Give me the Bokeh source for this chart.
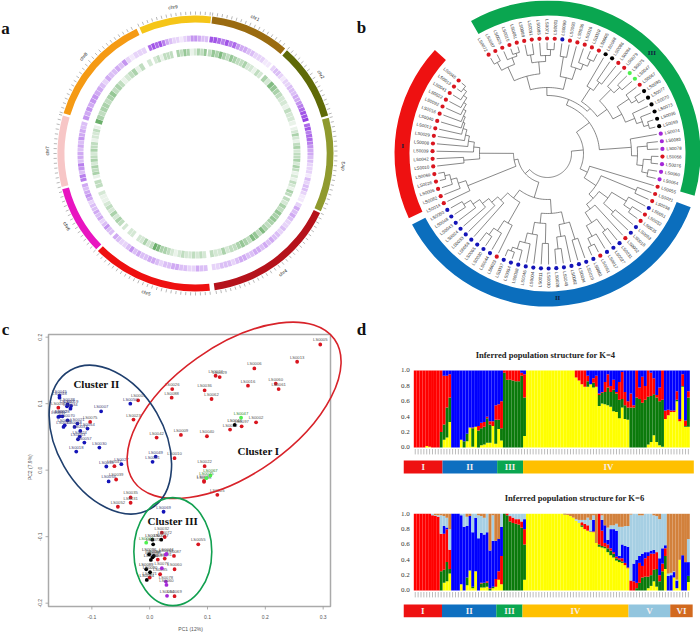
import math
from bokeh.plotting import figure
from bokeh.layouts import column, row
from bokeh.models import ColumnDataSource
from bokeh.core.properties import value
from bokeh.embed import file_html
from bokeh.resources import INLINE

SERIF = value("Liberation Serif")
SANS = value("Liberation Sans")

# ---------- panel a ----------
chr_names = ["chr1","chr2","chr3","chr4","chr5","chr6","chr7","chr8","chr9"]
chr_start = [7,41.5,75,115.5,174,226,256,287,336]
chr_end = [40.5,74,114.7,172,225,255,286,334.7,366.5]
chr_color = ["#9a6b10","#5f6a08","#8f9a2e","#b5121b","#ee1010","#e815c0","#f7c6c6","#f59a14","#f5c518"]
purple_bins = ["88768675443322211","233212233344567889","7867765443322213233211","2434322323343434433443233322",
 "3342233443323443343532234","3353243433245434","6635634434354433","545455443243343521222","78786432212355433"]
green_bins = ["3546435433422132","4265432213221","1242134233424312132143","3243545434635634543324223",
 "2323223212344673242202202","3424232112033","1434243243312231","7434434534312341302","2313330435412435"]

# ---------- panel b ----------
leaf_labels = ["LS0072","LS0087","LS0025","LS0015","LS0081","LS0089","LS0091","LS0085","LS0071","LS0003",
 "LS0099","LS0093","LS0036","LS0016","LS0020","LS0005","LS0088","LS0086","LS0084","LS0079",
 "LS0075","LS0047","LS0067","LS0090","LS0077","LS0070","LS0073","LS0096","LS0059","LS0074",
 "LS0083","LS0078","LS0056","LS0076","LS0060","LS0064","LS0055","LS0021","LS0038","LS0051",
 "LS0032","LS0035","LS0053","LS0018","LS0052","LS0031","LS0027","LS0017","LS0061","LS0001",
 "LS0019","LS0034","LS0002","LS0049","LS0028","LS0030","LS0011","LS0004","LS0046","LS0068",
 "LS0054","LS0037","LS0023","LS0044","LS0030","LS0065","LS0058","LS0033","LS0024","LS0043",
 "LS0048","LS0050","LS0014","LS0082","LS0006","LS0026","LS0069","LS0010","LS0042","LS0039",
 "LS0008","LS0029","LS0012","LS0040","LS0016","LS0092","LS0022","LS0041","LS0013","LS0045"]
leaf_kind = "rrrrrrrrrrbrrrrrkkrrggrkkkkkk" + "ppprppprrrb" + "rrbbrbbbrb" + "b"*12 + "r" + "b"*9 + "r"*18
kind_color = {"r":"#d9151f","b":"#1414b8","k":"#000000","g":"#4ff04f","p":"#a428d8"}
arc_names = ["I","II","III"]
arc_start = [245,110.6,330]
arc_end = [312.6,242.3,466]
arc_color = ["#ee1111","#0b6ebd","#0aa650"]

def n(r, *c):
    return (r, c)

clade_a = n(66, n(80, n(95, n(104,0,1), n(102,2,n(105,3,4))), n(92, n(100,5,6), n(98,7,n(104,8,9)))),
            n(78, n(98,10,11), n(90,12,n(96,13,n(103,14,15)))))
clade_b = n(62, n(78,16,n(88,17,18)), n(74, n(90,19,n(98,20,21)), n(84, n(98,22,n(104,23,24)), n(94,25,n(100,26,n(105,27,28))))))
clade_c = n(84, 29, n(90, n(100,30,31), n(96, n(104,32,33), n(102,34,35))))
clade_d = n(96,37,38)
clade_e = n(75, n(92,39,n(100,40,41)), n(88,42,43))
clade_f = n(70, 44, n(82, n(96,45,46), n(94,47,n(102,48,49))))
clade_g = n(60, n(72,n(90,50,51),n(84,52,n(96,53,54))), n(70,n(90,55,56),n(82,57,n(92,58,n(100,59,n(104,60,61))))))
clade_h = n(56, n(80,62,n(92,63,n(100,64,65))), n(66,66,n(74,67,n(82,68,n(90,69,n(98,70,71))))))
clade_i1 = n(86,72,n(94,73,n(100,74,n(105,75,76))))
clade_i2 = n(68, n(84,77,78), n(74,79,n(80,80,n(84,81,n(88,82,n(90,83,n(92,84,n(95,85,n(98,86,n(102,87,n(106,88,89)))))))))))
tree = n(24, n(36, n(52, n(58, clade_a, clade_b), clade_c), n(44, 36, n(58, clade_d, n(64, clade_e, clade_f)))),
             n(30, n(46, clade_g, clade_h), n(34, clade_i1, clade_i2)))

# ---------- panel c ----------
pc_red = [(.295,.189,"LS0005"),(.255,.163,"LS0013"),(.181,.153,"LS0006"),(.114,.142,"LS0024"),(.121,.140,"LS0029"),
 (.218,.130,"LS0060"),(.223,.122,"LS0061"),(.170,.127,"LS0016"),(.039,.122,"LS0026"),(.095,.120,"LS0036"),
 (.107,.107,"LS0062"),(.038,.109,"LS0088"),(-.020,.105,"LS0001"),(-.028,.076,"LS0023"),(.012,.049,"LS0042"),
 (.054,.053,"LS0009"),(.099,.051,"LS0040"),(.184,.072,"LS0002"),(.159,.066,"LS0097"),(.139,.061,"LS0012"),
 (.043,.018,"LS0010"),(.095,.006,"LS0022"),(.094,-.016,"LS0037"),(.094,-.0175,"LS0058"),(.117,-.037,"LS0025"),
 (-.033,-.041,"LS0035"),(-.033,-.049,"LS0031"),(-.055,-.055,"LS0052"),(-.058,-.014,"LS0039"),(-.061,.006,"LS0047"),
 (-.103,.0725,"LS0075"),(-.158,.094,"LS0056"),(.021,-.094,"LS0032"),(.026,-.1005,"LS0072"),(.084,-.1115,"LS0055"),
 (.042,-.129,"LS0087"),(.026,-.133,"LS0081"),(.014,-.1345,"LS0091"),(.043,-.149,"LS0060"),(.018,-.1565,"LS0085"),
 (0,-.1615,"LS0071"),(.043,-.1895,"LS0069")]
pc_blue = [(-.156,.112,"LS0045"),(-.156,.109,"LS0048"),(-.142,.099,"LS0038"),(-.143,.096,"LS0017"),(-.136,.0965,"LS0019"),
 (-.137,.0925,"LS0034"),(-.156,.081,"LS0002"),(-.151,.081,"LS0028"),(-.158,.08,"LS0011"),(-.142,.075,"LS0070"),
 (-.147,.0675,"LS0004"),(-.149,.065,"LS0046"),(-.125,.07,"LS0021"),(-.130,.065,"LS0068"),(-.1075,.0625,"LS0054"),
 (-.12,.059,"LS0033"),(-.121,.0505,"LS0024"),(-.124,.0465,"LS0043"),(-.113,.0415,"LS0057"),(-.127,.028,"LS0018"),
 (-.084,.0885,"LS0007"),(-.0335,.1,"LS0050"),(-.087,.034,"LS0030"),(-.075,.0055,"LS0053"),(-.049,.009,"LS0027"),
 (-.071,-.017,"LS0054"),(.0104,.0205,"LS0049"),(.005,.0125,"LS0051"),(.024,-.0625,"LS0069")]
pc_black = [(.147,.068,"LS0044"),(.0046,-.1045,"LS0070"),(.02,-.1045,"LS0077"),(.006,-.1115,"LS0073"),(-.001,-.1265,"LS0096"),
 (.007,-.129,"LS0059"),(.005,-.131,"LS0088"),(.002,-.135,"LS0086"),(-.006,-.149,"LS0089"),(.0006,-.1535,"LS0090"),(-.005,-.165,"LS0084")]
pc_green = [(.158,.079,"LS0047"),(.105,-.008,"LS0067"),(.098,-.012,"LS0075"),(-.006,-.109,"LS0047")]
pc_purple = [(.029,-.126,"LS0074"),(.028,-.127,"LS0083"),(.021,-.1475,"LS0076"),(.028,-.1675,"LS0078"),(.029,-.1725,"LS0060"),(.03,-.189,"LS0064")]
pc_x_ticks = [-.1,0,.1,.2,.3]
pc_y_ticks = [-.2,-.1,0,.1,.2]
ell_x = [.146,-.068,.04]
ell_y = [.09,.046,-.1225]
ell_major = [246,160,108]
ell_minor = [128,107,78]
ell_angle = [35.3,-60,90]
ell_color = ["#d8232a","#1f3f6e","#12a050"]
cluster_names = ["Cluster I","Cluster II","Cluster III"]
cluster_x = [.188,-.092,.04]
cluster_y = [.029,.129,-.076]

# ---------- panel d ----------
k4_yellow = [0,0,0,0,.02,.01,0,0,0,0, .1,.13,.33,0,0,0,.1,0,.08,.26, .01,.27,0,.03,.04,.06,.06,.28,.05,.24,
 .09,0,0,0,0,0,0,0,.15,1, 1,1,1,1,1,1,1,1,1,1, 1,1,1,1,1,1,.91,.87,.82,.79,
 .79,.82,.78,.79,.54,.57,.56,.55,.53,.47, .46,.38,.52,.37,.36,0,0,0,0,0, 0,.04,.07,.16,.07,.03,.01,.37,.42,.46, .46,.6,.34,.79,.27,.27]
k4_green = [0,0,0,0,.02,.01,0,0,0,.2, .3,.52,.65,0,0,0,.1,.08,.18,.26, .25,.27,.22,.25,.27,.38,.3,.28,.36,.36,
 .25,.97,.88,.88,.87,.86,.86,.93,.65,1, 1,1,1,1,1,1,1,1,1,1, 1,1,1,1,1,1,.91,.87,.82,.79,
 .86,.82,.84,.79,.68,.71,.72,.78,.72,.75, .7,.62,.63,.55,.52,.52,.52,.65,.63,.58, .62,.66,.67,.69,.65,.6,.62,.37,.42,.46, .46,.62,.34,.8,.28,.65]
k4_red = [1,1,1,1,1,1,1,1,1,1, .93,.93,.95,0,0,0,.1,.08,.18,.26, .26,.27,.28,.32,.33,.4,.34,.34,.55,.56,
 .6,1,1,1,1,1,1,.97,.95,1, 1,1,1,1,1,1,1,1,1,1, 1,1,1,1,1,1,1,1,1,1,
 .93,.82,.9,.93,.7,.72,.85,.95,.8,.88, .72,.85,.98,.72,.6,.7,.55,1,.78,.92, .8,1,.97,.9,.68,.78,1,.48,.49,.48, .48,.73,.37,.95,.35,.73]
k6_yellow = [0,0,0,0,0,0,0,0,0,0, .1,.12,.22,0,0,0,.08,0,.07,.26, .03,.25,0,.04,.04,.05,0,.03,.05,.14,
 .08,0,0,0,0,0,0,0,.14,1, 1,1,1,1,1,1,1,1,1,1, 1,1,1,.985,.97,.95,.91,.88,.83,.8,
 .78,.77,.76,.74,.57,.56,.55,.5,.46,.43, .39,.37,.36,.33,.29,0,0,0,0,0, 0,.03,.06,.12,.05,0,0,.28,0,0, .17,.03,.4,0,0,.11]
k6_green = [0,0,0,0,0,0,0,0,0,.25, .27,.37,.28,0,0,0,.08,0,.17,.26, .05,.25,0,.09,.1,.1,.02,.05,.05,.14,
 .08,1,.98,.9,.88,.87,.86,.82,.6,1, 1,1,1,1,1,1,1,1,1,1, 1,1,1,.985,.97,.95,.91,.88,.85,.8,
 .78,.77,.76,.74,.6,.58,.57,.55,.52,.48, .42,.4,.38,.33,.29,0,0,.03,.1,.17, .18,.18,.2,.27,.28,.12,.25,.45,0,0, .17,.03,.4,0,0,.19]
k6_red = [1,1,1,1,1,1,.98,.97,.96,.74, .74,.8,.53,0,0,0,.08,0,.17,.26, .05,.25,0,.1,.1,.12,.03,.05,.15,.25,
 .45,1,1,.97,.95,.93,.93,.9,.8,1, 1,1,1,1,1,1,1,1,1,1, 1,1,1,.985,.97,.95,.91,.88,.89,.87,
 .85,.77,.77,.74,1,.78,.62,.6,.55,.5, .44,.42,.42,.36,.3,.13,.12,.1,.36,.32, .42,.45,.48,.48,.5,.2,.35,.55,0,0, .17,.03,.4,0,0,.19]
k6_blue = [1,1,1,1,1,1,.98,.97,.96,.74, .84,.82,.53,1,1,1,.98,.83,.84,.97, .76,.95,.68,.75,.73,.76,.52,.65,.65,.68,
 .83,1,1,.97,.95,.93,.93,.9,.93,1, 1,1,1,1,1,1,1,1,1,1, 1,1,1,.985,.97,.95,.91,.88,.89,.87,
 .85,.78,.92,.74,1,.92,.85,.66,.8,.8, .78,.45,.6,.58,.57,.13,.35,.4,.45,.48, .5,.5,.52,.53,.5,.42,.55,.59,.19,.2, .24,.13,.4,.46,.37,.37]
k6_light = [1,1,1,1,1,1,1,.98,.98,.98, .97,.95,.8,1,1,1,1,1,.96,.97, 1,1,.98,.97,.95,1,.52,.98,.65,.67,
 1,1,1,1,1,1,1,1,1,1, 1,1,1,1,1,1,1,1,1,1, 1,1,.99,.985,.97,.95,.93,.92,.92,.92,
 .95,.92,.98,.62,1,.98,.85,.82,.85,.85, .87,.83,.83,.84,.84,.99,1,1,.98,.98, 1,1,1,.98,.97,.93,1,1,.22,.23, .25,.14,.4,.46,.37,.67]
y_ticks = [0,.2,.4,.6,.8,1]
k4_band_names = ["I","II","III","IV"]
k4_band_edges = [-3.5,10,29,38,97.4]
k4_band_colors = ["#ee1111","#0e6fc0","#0aa650","#ffc000"]
k6_band_names = ["I","II","III","IV","V","VI"]
k6_band_edges = [-3.5,9.8,28.7,37.8,74.7,89.2,97]
k6_band_colors = ["#ee1111","#0e6fc0","#0aa650","#ffc000","#92c5de","#d2691e"]

for s in (k4_yellow,k4_green,k4_red,k6_yellow,k6_green,k6_red,k6_blue,k6_light):
    assert len(s) == 96, len(s)
assert len(leaf_labels) == 90 and len(leaf_kind) == 90, (len(leaf_labels), len(leaf_kind))

def blank(w, h, xr, yr):
    p = figure(width=w, height=h, x_range=xr, y_range=yr, output_backend="svg", toolbar_location=None,
               min_border=0, outline_line_color=None)
    p.axis.visible = False
    p.grid.visible = False
    return p

def letter(p, x, y, t):
    p.text([x],[y],[t],text_font=SERIF,text_font_style="bold",text_font_size="17px",
           text_align="center",text_baseline="middle",text_color="#111111")

def mix(col, f):
    c = [int(col[i:i+2],16) for i in (1,3,5)]
    return "#%02x%02x%02x" % tuple(int(255+(v-255)*f) for v in c)

def polar(r, a):
    t = math.radians(a)
    return r*math.sin(t), r*math.cos(t)

def wedges(p, r0, r1, st, en, cols, alpha=1):
    p.annular_wedge(0,0,inner_radius=r0,outer_radius=r1,
        start_angle=[math.pi/2-math.radians(e) for e in en],
        end_angle=[math.pi/2-math.radians(s) for s in st],
        fill_color=cols,line_color=None,fill_alpha=alpha)

# panel a
pa = blank(350,320,(-195,155),(-167,153))
letter(pa,-190,125,"a")
wedges(pa,131,138,chr_start,chr_end,chr_color)
tx0,ty0,tx1,ty1=[],[],[],[]
for s,e in zip(chr_start,chr_end):
    a=s
    while a<=e:
        x,y=polar(138.8,a); tx0.append(x); ty0.append(y)
        x,y=polar(142,a); tx1.append(x); ty1.append(y)
        a+=2
pa.segment(tx0,ty0,tx1,ty1,line_color="#888888",line_width=.6)
for bins,r0,r1,col in ((purple_bins,112,118,"#8a2be2"),(green_bins,98,105,"#2e8f2e")):
    st,en,cl=[],[],[]
    for s,e,b in zip(chr_start,chr_end,bins):
        w=(e-s)/len(b)
        for i,ch in enumerate(b):
            if ch!="0":
                st.append(s+i*w); en.append(s+(i+1)*w-.2); cl.append(mix(col,(int(ch)/9)*.9))
    wedges(pa,r0,r1,st,en,cl)
lx,ly,la=[],[],[]
for s,e in zip(chr_start,chr_end):
    m=(s+e)/2; x,y=polar(148,m); lx.append(x); ly.append(y)
    m%=360
    la.append(math.radians(-m if (m<90 or m>270) else 180-m))
pa.text(lx,ly,chr_names,angle=la,text_font=SANS,text_font_size="4.8px",text_align="center",text_baseline="middle",text_color="#222222")

# panel b
pb = blank(350,320,(-197,153),(-167,153))
letter(pb,-186,126,"b")
wedges(pb,138,153,arc_start,arc_end,arc_color)
N=len(leaf_labels)
first,last=329.2,669.4
leaf_a=[first+(last-first)*i/(N-1) for i in range(N)]
xs,ys=[],[]
def place(node):
    if isinstance(node,int):
        return 111, leaf_a[node]
    r,ch=node
    info=[place(c) for c in ch]
    a0,a1=info[0][1],info[-1][1]
    steps=max(2,int((a1-a0)/2)+1)
    pts=[polar(r,a0+(a1-a0)*i/steps) for i in range(steps+1)]
    xs.append([q[0] for q in pts]); ys.append([q[1] for q in pts])
    for cr,ca in info:
        q0=polar(r,ca); q1=polar(cr,ca)
        xs.append([q0[0],q1[0]]); ys.append([q0[1],q1[1]])
    return r,(a0+a1)/2
place(tree)
pb.multi_line(xs,ys,line_color="#555555",line_width=.7)
dx=[polar(115,a)[0] for a in leaf_a]; dy=[polar(115,a)[1] for a in leaf_a]
pb.scatter(dx,dy,size=4.2,fill_color=[kind_color[k] for k in leaf_kind],line_color=None)
tx=[polar(119,a)[0] for a in leaf_a]; ty=[polar(119,a)[1] for a in leaf_a]
ang,ali=[],[]
for a in leaf_a:
    m=a%360
    if m<180:
        ang.append(math.radians(90-m)); ali.append("left")
    else:
        ang.append(math.radians(270-m)); ali.append("right")
pb.text(source=ColumnDataSource(dict(x=tx,y=ty,t=leaf_labels,a=ang,al=ali)),x="x",y="y",text="t",angle="a",text_align="al",
        text_baseline="middle",text_font=SANS,text_font_size="4.4px",text_color="#333333")
gx=[polar(145,a)[0] for a in (273,176,406)]; gy=[polar(145,a)[1] for a in (273,176,406)]
pb.text(gx,gy,arc_names,text_font=SERIF,text_font_style="bold",text_font_size="7px",text_align="center",text_baseline="middle",text_color="#102040")

# panel c: box from PC1 -0.175..0.3127, PC2 -0.205..0.204; scale 578.2 px and 665 px per unit
X0,X1,Y0,Y1=-.175,.3127,-.205,.204
PX,PY=282/(X1-X0),272/(Y1-Y0)
pc = blank(350,314,(X0-48/PX,X1+20/PX),(Y0-28/PY,Y1+14/PY))
pc.quad(left=[X0],right=[X1],bottom=[Y0],top=[Y1],fill_color=None,line_color="#aaaaaa",line_width=1.5)
pc.segment(pc_x_ticks,[Y0]*5,pc_x_ticks,[Y0-3/PY]*5,line_color="#999999",line_width=.8)
pc.segment([X0]*5,pc_y_ticks,[X0-3/PX]*5,pc_y_ticks,line_color="#999999",line_width=.8)
fmt=lambda v:"%.1f"%v if v else "0.0"
pc.text(pc_x_ticks,[Y0-10.5/PY]*5,[fmt(v) for v in pc_x_ticks],text_font=SANS,text_font_size="5px",text_align="center",text_baseline="middle",text_color="#555555")
pc.text([X0-9/PX]*5,pc_y_ticks,[fmt(v) for v in pc_y_ticks],angle=math.pi/2,text_font=SANS,text_font_size="5px",text_align="center",text_baseline="middle",text_color="#555555")
pc.text([.0707],[Y0-22/PY],["PC1 (12%)"],text_font=SANS,text_font_size="5px",text_align="center",text_baseline="middle",text_color="#555555")
pc.text([X0-19/PX],[.0045],["PC2 (7.9%)"],angle=math.pi/2,text_font=SANS,text_font_size="5px",text_align="center",text_baseline="middle",text_color="#555555")
letter(pc,X0-43/PX,Y1+5/PY,"c")
for pts,col,lab in ((pc_red,"#d9151f","#555555"),(pc_blue,"#1414b8","#444477"),(pc_black,"#000000","#333333"),(pc_green,"#4ff04f","#338833"),(pc_purple,"#a428d8","#555555")):
    xv=[q[0] for q in pts]; yv=[q[1] for q in pts]; tv=[q[2] for q in pts]
    pc.scatter(xv,yv,size=3.8,fill_color=col,line_color=None)
    pc.text(xv,yv,tv,y_offset=-2,text_font=SANS,text_font_size="4.2px",text_align="center",text_baseline="bottom",text_color=lab)
pc.ellipse(ell_x,ell_y,width=ell_major,height=ell_minor,width_units="screen",height_units="screen",
           angle=[math.radians(v) for v in ell_angle],fill_color=None,line_color=ell_color,line_width=1.6)
pc.text(cluster_x,cluster_y,cluster_names,text_font=SERIF,text_font_style="bold",text_font_size="11px",text_align="center",text_baseline="middle",text_color="#111111")

# panel d
def structure(h, yr, tops, cols, edges, names, bcols, y0, y1, tx, ty, title):
    p=blank(350,h,(-22.02,99.72),yr)
    idx=[i+.5 for i in range(96)]
    bottom=[0]*96
    for top,c in zip(tops,cols):
        p.vbar(idx,width=1,bottom=bottom,top=top,fill_color=c,line_color=None)
        bottom=top
    p.segment(idx,[-.02]*96,idx,[-.09]*96,line_color="#aaaaaa",line_width=.8)
    p.text([-1.4]*6,y_ticks,["%.1f"%t for t in y_ticks],text_font=SERIF,text_font_size="7px",text_align="right",text_baseline="middle",text_color="#333333")
    p.quad(left=edges[:-1],right=edges[1:],bottom=[y1]*len(names),top=[y0]*len(names),fill_color=bcols,line_color=None)
    p.text([(a+b)/2 for a,b in zip(edges[:-1],edges[1:])],[(y0+y1)/2]*len(names),names,text_font=SERIF,text_font_style="bold",
           text_font_size="9px",text_align="center",text_baseline="middle",text_color="#f4eeee")
    p.text([tx],[ty],[title],text_font=SERIF,text_font_style="bold",text_font_size="8.6px",text_align="center",text_baseline="middle",text_color="#222222")
    return p

pd4=structure(160,(-.4286,1.649),[k4_yellow,k4_green,k4_red,[1]*96],["#ffff00","#0b7a0b","#ff0000","#0000ff"],
              k4_band_edges,k4_band_names,k4_band_colors,-.169,-.338,45.8,1.195,"Inferred population structure for K=4")
letter(pd4,-18.2,1.53,"d")
pd6=structure(154,(-.5737,1.434),[k6_yellow,k6_green,k6_red,k6_blue,k6_light,[1]*96],["#ffff00","#0b7a0b","#ff0000","#0000ff","#a6cfe3","#d2813c"],
              k6_band_edges,k6_band_names,k6_band_colors,-.1825,-.348,55.9,1.21,"Inferred population structure for K=6")

page=column(row(pa,pb,spacing=0),row(pc,column(pd4,pd6,spacing=0),spacing=0),spacing=0)
open("out.html","w").write(file_html(page,INLINE))
